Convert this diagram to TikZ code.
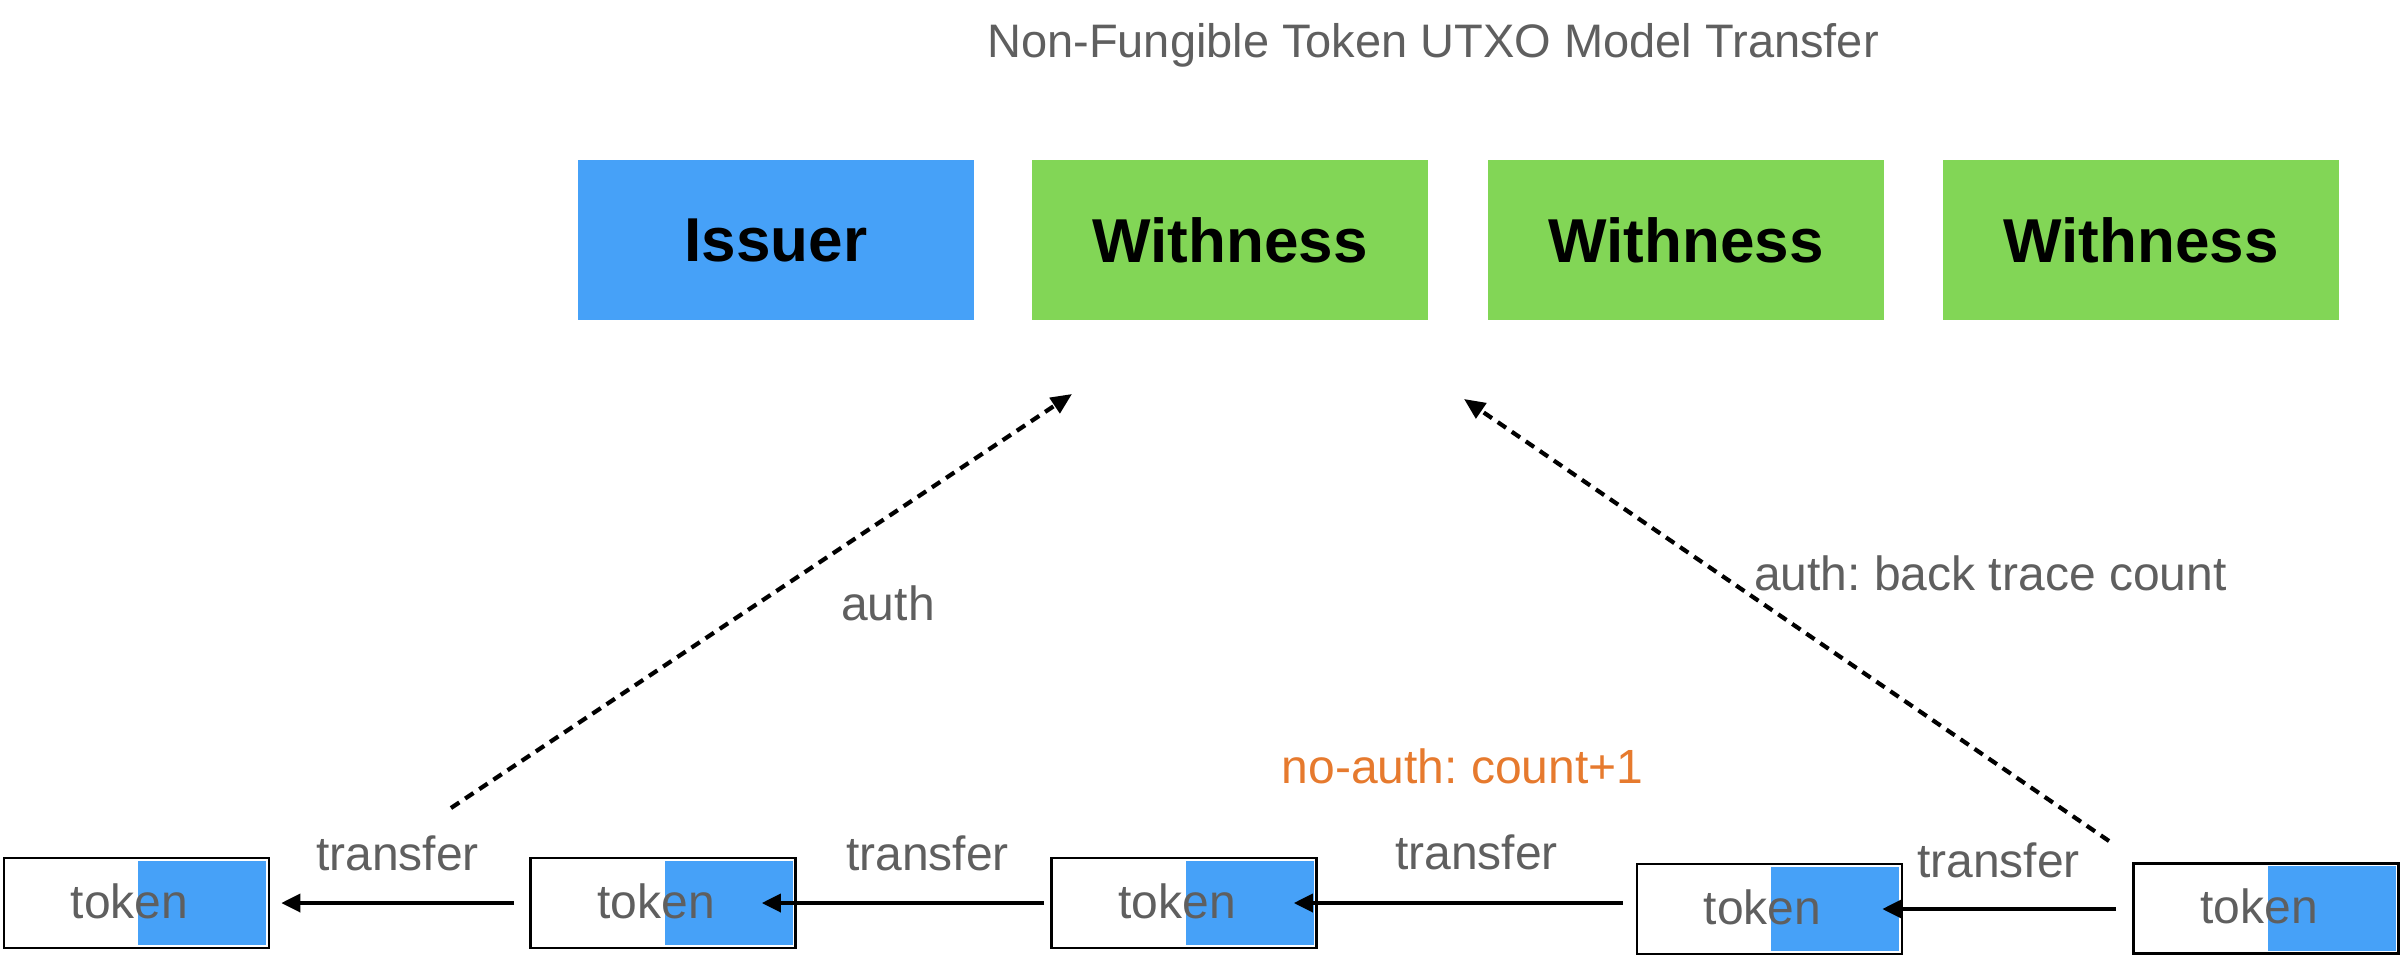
\documentclass[tikz,border=0pt]{standalone}
\usepackage{fontspec}
\setmainfont{Liberation Sans}
\usetikzlibrary{arrows.meta,calc}
\definecolor{tokblue}{HTML}{46A1F8}
\definecolor{wgreen}{HTML}{82D656}
\definecolor{txtgray}{HTML}{5F5F5F}
\definecolor{orng}{HTML}{E67A2E}
\frenchspacing
\begin{document}
\begin{tikzpicture}[x=1pt,y=-1pt,
  headbox/.style={minimum width=396pt, minimum height=160pt, inner sep=0pt,
    font=\fontsize{62}{70}\selectfont\bfseries, text=black},
  issuerbox/.style={headbox, fill=tokblue},
  witbox/.style={headbox, fill=wgreen},
  tokbox/.style={draw=black, line width=2.6pt, minimum width=265pt, minimum height=90pt, inner sep=0pt},
  toktext/.style={anchor=base, inner sep=0pt, text=txtgray, font=\fontsize{48}{58}\selectfont},
  lbl/.style={anchor=base, inner sep=0pt, text=txtgray, font=\fontsize{48}{58}\selectfont},
  xfer/.style={-{Triangle[length=19pt,width=18pt]}, line width=3.6pt},
  authline/.style={-{Triangle[length=21pt,width=18pt]}, line width=4.2pt, dash pattern=on 10pt off 7pt},
]
\useasboundingbox (0,0) rectangle (2402,958);

% title
\node[lbl, font=\fontsize{47}{56}\selectfont] (title) at (1433,58) {Non-Fungible Token UTXO Model Transfer};

% top boxes
\node[issuerbox] (issuer) at (776,240) {Issuer};
\node[witbox] (w1) at (1230,240) {Withness};
\node[witbox] (w2) at (1686,240) {Withness};
\node[witbox] (w3) at (2141,240) {Withness};

% tokens
\foreach \n/\cx/\cy in {T1/136.5/903, T2/663/903, T3/1184/903, T4/1769.5/909, T5/2266/908.5} {
  \node[tokbox] (\n) at (\cx,\cy) {};
  \fill[tokblue] ($(\n.north east)+(-4,4)$) rectangle ($(\n.south east)+(-132,-4)$);
  \node[toktext] at ($(\n.center)+(-7,15)$) {token};
}

% transfer arrows
\draw[xfer] ($(T2.west |- T1.east)+(-15,0)$) -- ($(T1.east)+(11,0)$);
\draw[xfer] ($(T3.west |- T2.east)+(-6,0)$) -- ($(T2.east)+(-35,0)$);
\draw[xfer] ($(T4.west |- T3.east)+(-13,0)$) -- ($(T3.east)+(-24,0)$);
\draw[xfer] ($(T5.west |- T4.east)+(-16,0)$) -- ($(T4.east)+(-21,0)$);

% transfer labels
\node[lbl] (tr1) at (397.5,870) {transfer};
\node[lbl] (tr2) at (927.5,870) {transfer};
\node[lbl] (tr3) at (1476.5,869) {transfer};
\node[lbl] (tr4) at (1998.5,877) {transfer};

% auth arrows
\coordinate (a1s) at (451,808);
\coordinate (a1e) at (1072,394);
\coordinate (a2s) at (2109,841);
\coordinate (a2e) at (1464,399);
\draw[authline] (a1s) -- (a1e);
\draw[authline] (a2s) -- (a2e);

\node[lbl] (auth) at (888,620) {auth};
\node[lbl, anchor=base west] (backtrace) at (1754,590) {auth: back trace count};
\node[lbl, text=orng] (noauth) at (1462.5,783) {no-auth: count+1};
\end{tikzpicture}
\end{document}
